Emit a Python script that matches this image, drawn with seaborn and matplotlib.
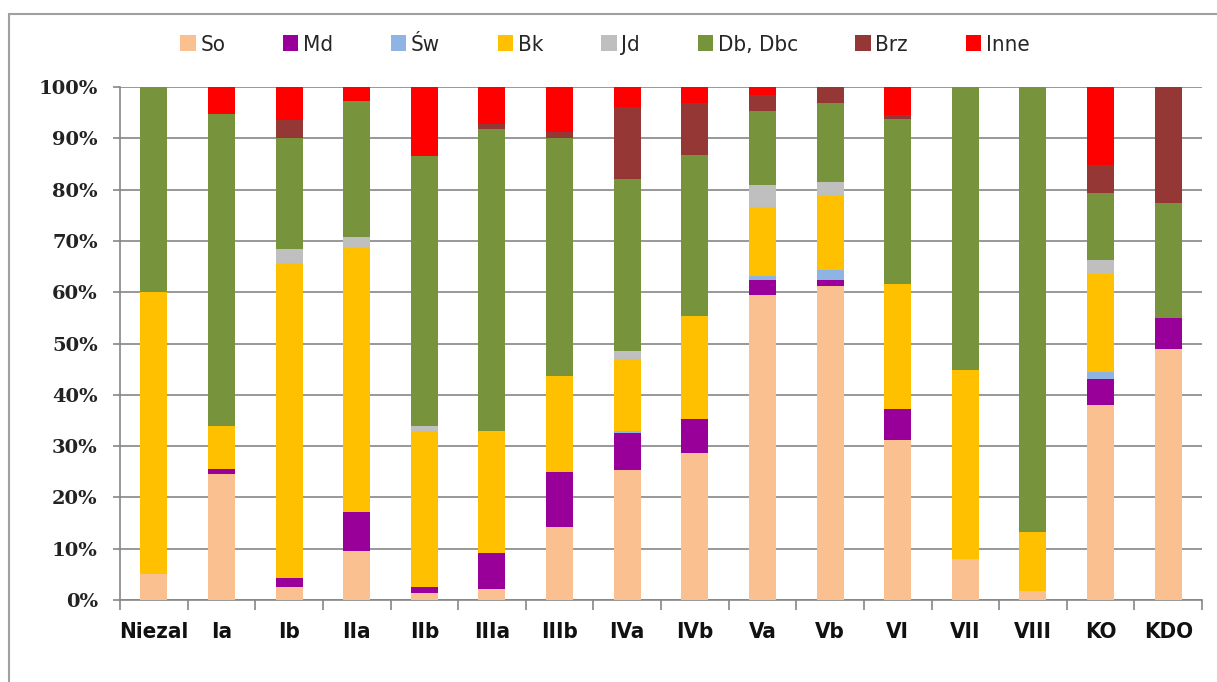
import numpy as np
import pandas as pd
import matplotlib
matplotlib.use('Agg')
import matplotlib.pyplot as plt
import seaborn as sns
from matplotlib.lines import Line2D
from matplotlib.patches import Patch
from matplotlib import font_manager

# categories (forest site types / age classes)
cats = ['Niezal', 'Ia', 'Ib', 'IIa', 'IIb', 'IIIa', 'IIIb', 'IVa', 'IVb',
        'Va', 'Vb', 'VI', 'VII', 'VIII', 'KO', 'KDO']

# shares in %
so   = [5.0, 24.6, 2.5, 9.6, 1.3, 2.1, 14.2, 25.3, 28.6, 59.4, 61.3, 31.2, 7.9, 1.8, 38.0, 49.0]
md   = [0.0, 0.9, 1.7, 7.5, 1.2, 7.1, 10.8, 7.2, 6.7, 2.9, 1.0, 6.0, 0.0, 0.0, 5.0, 6.0]
sw   = [0.0, 0.0, 0.0, 0.0, 0.0, 0.0, 0.0, 0.5, 0.0, 0.8, 2.0, 0.0, 0.0, 0.0, 1.5, 0.0]
bk   = [55.0, 8.5, 61.5, 51.5, 30.5, 23.8, 18.6, 14.0, 20.0, 13.6, 14.6, 24.4, 36.9, 11.4, 19.0, 0.0]
jd   = [0.0, 0.0, 2.7, 2.1, 1.0, 0.0, 0.0, 1.6, 0.0, 4.2, 2.5, 0.0, 0.0, 0.0, 2.8, 0.0]
db   = [40.0, 60.7, 21.6, 26.5, 52.6, 58.8, 46.4, 33.5, 31.5, 14.4, 15.4, 32.2, 55.2, 86.8, 13.1, 22.4]
brz  = [0.0, 0.0, 3.5, 0.0, 0.0, 1.0, 1.2, 14.1, 10.0, 3.2, 3.2, 0.7, 0.0, 0.0, 5.4, 22.6]
inne = [0.0, 5.3, 6.5, 2.8, 13.4, 7.2, 8.8, 3.8, 3.2, 1.5, 0.0, 5.5, 0.0, 0.0, 15.2, 0.0]

series = ['So', 'Md', 'Św', 'Bk', 'Jd', 'Db, Dbc', 'Brz', 'Inne']
colors = ['#FAC090', '#990099', '#8DB4E2', '#FFC000', '#BFBFBF', '#77933C', '#953735', '#FF0000']

df = pd.DataFrame({'cat': cats, 'So': so, 'Md': md, 'Św': sw, 'Bk': bk, 'Jd': jd,
                   'Db, Dbc': db, 'Brz': brz, 'Inne': inne})

sns.set_style('white')

# narrow sans for category labels and legend, if a condensed face is around
cond = [f for f in font_manager.fontManager.ttflist
        if 'ondensed' in f.fname or 'Narrow' in f.name]
plain = [f.fname for f in cond if 'Bold' not in f.fname and 'Oblique' not in f.fname and 'Italic' not in f.fname]
bolds = [f.fname for f in cond if 'Bold' in f.fname and 'Oblique' not in f.fname and 'Italic' not in f.fname]
if plain:
    narrow_reg = font_manager.FontProperties(fname=plain[0])
    narrow_bold = font_manager.FontProperties(fname=bolds[0]) if bolds else narrow_reg
else:
    narrow_reg = font_manager.FontProperties(family='DejaVu Sans')
    narrow_bold = font_manager.FontProperties(family='DejaVu Sans', weight='bold')

fig = plt.figure(figsize=(12.17, 6.82), dpi=100)
ax = fig.add_axes([0.0986, 0.1202, 0.8891, 0.7522])

bottom = np.zeros(len(cats))
for s, c in zip(series, colors):
    sns.barplot(x=df['cat'], y=df[s], bottom=bottom, color=c, saturation=1,
                width=0.4, ax=ax, order=cats, linewidth=0, zorder=3)
    bottom = bottom + df[s].values

ax.set_xlim(-0.5, len(cats) - 0.5)
ax.set_ylim(0, 100)
ax.set_xlabel('')
ax.set_ylabel('')

yt = np.arange(0, 101, 10)
ax.set_yticks(yt)
ax.set_yticklabels([f'{v}%' for v in yt], family=['DejaVu Serif'], fontsize=14,
                   fontweight='bold', color='#222222')
ax.grid(axis='y', color='#868686', linewidth=1.2, zorder=0)
ax.grid(axis='x', visible=False)

ax.set_xticks(range(len(cats)))
ax.set_xticklabels(cats, color='#111111')
for t in ax.get_xticklabels():
    t.set_fontproperties(narrow_bold)
    t.set_fontsize(16)
ax.set_xticks(np.arange(-0.5, len(cats), 1), minor=True)
ax.tick_params(axis='x', which='major', length=0, pad=16)
ax.tick_params(axis='x', which='minor', length=7, width=1.2, color='#868686', direction='out', bottom=True)
ax.tick_params(axis='y', length=5, width=1.2, color='#868686', direction='out', left=True, pad=11)

for side in ['top', 'right']:
    ax.spines[side].set_visible(False)
for side in ['left', 'bottom']:
    ax.spines[side].set_color('#868686')
    ax.spines[side].set_linewidth(1.2)

leg_font = narrow_reg.copy()
leg_font.set_size(16)
handles = [Patch(facecolor=c, edgecolor='none') for c in colors]
fig.legend(handles, series, loc='center', bbox_to_anchor=(0.497, 0.934), ncol=8,
           frameon=False, prop=leg_font,
           handlelength=0.7, handleheight=0.7, handletextpad=0.2, columnspacing=2.6)

# outer chart frame (left and top edges)
fig.add_artist(Line2D([9 / 1217, 9 / 1217], [0, 1 - 14 / 682], color='#A0A0A0', linewidth=1.5))
fig.add_artist(Line2D([9 / 1217, 1], [1 - 14 / 682, 1 - 14 / 682], color='#A0A0A0', linewidth=1.5))

fig.savefig('out.png', dpi=100)
